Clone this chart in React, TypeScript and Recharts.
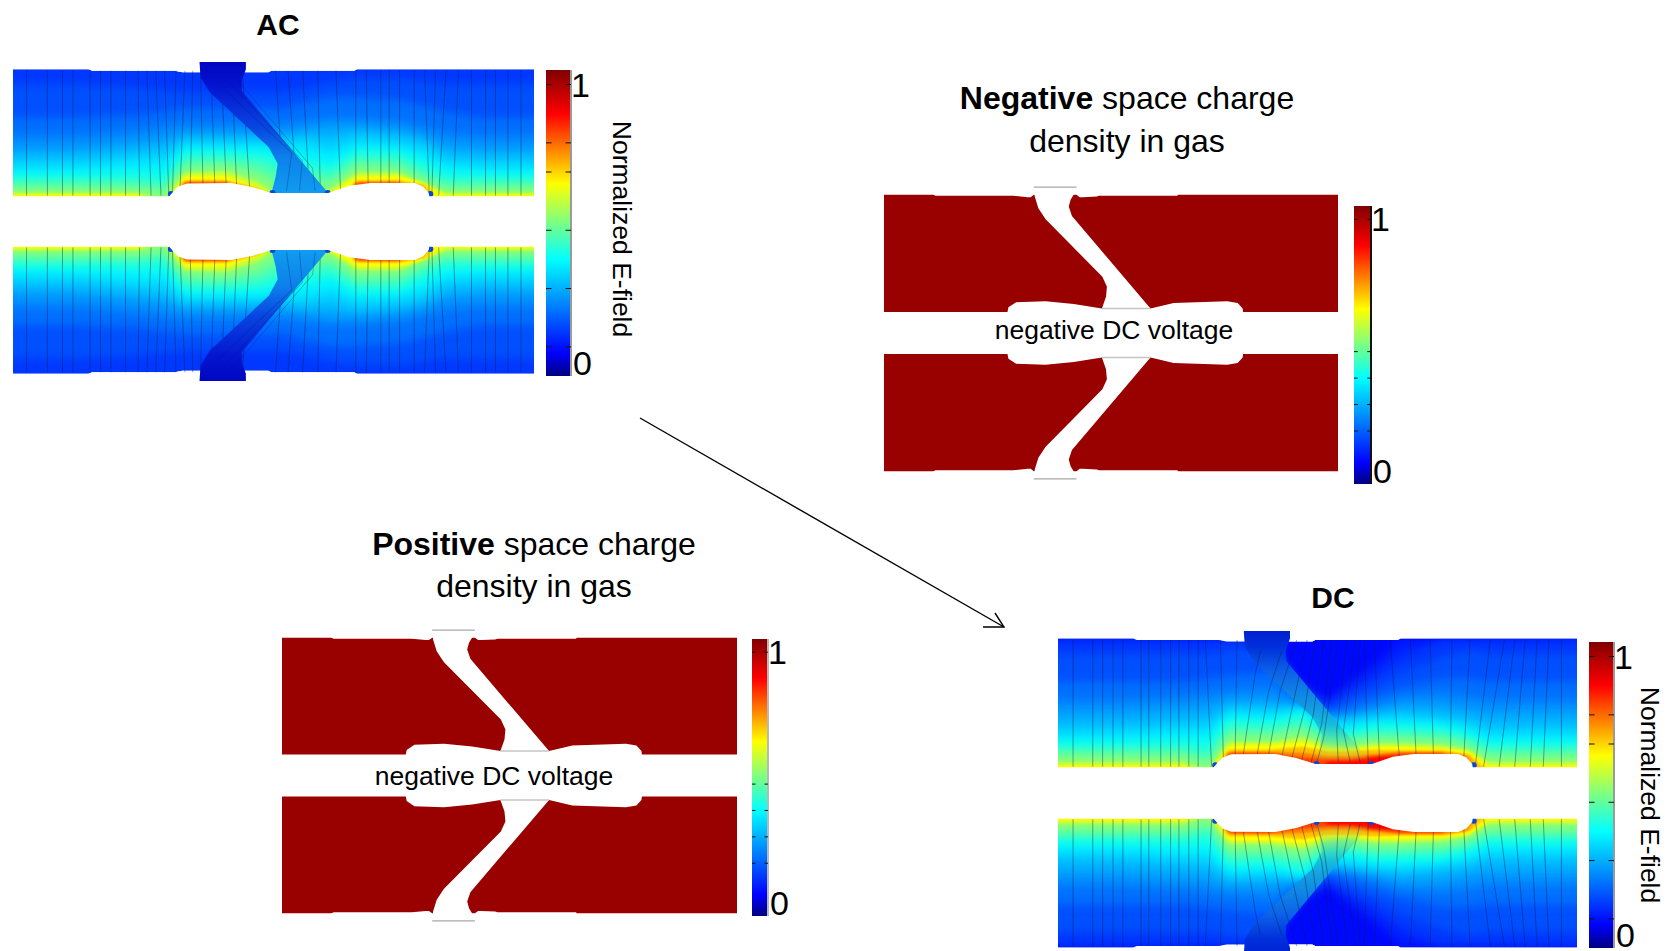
import React from "react";
import { Bar, BarChart, Scatter, ScatterChart, XAxis, YAxis } from "recharts";

// contour stations along the insulator width (0-100), v = distance from mid gap (outer edge = 100)
const stationU = [0, 12, 24, 29, 33, 41, 47, 52, 56, 61, 66, 74, 79, 83, 90, 100];

const acBase = 0.15;
const acLevels = [0.18, 0.22, 0.26, 0.3, 0.34, 0.38, 0.42, 0.46, 0.5, 0.55, 0.6, 0.66, 0.74, 0.84];
const acContourV = [
  [90, 90, 88, 86, 85, 85, 85, 85, 88, 92, 94, 94, 92, 90, 90, 90],
  [68, 68, 70, 72, 74, 74, 74, 74, 78, 82, 82, 80, 76, 72, 68, 68],
  [56, 56, 60, 62, 64, 64, 64, 64, 66, 68, 68, 66, 62, 58, 56, 56],
  [48, 48, 52, 54, 58, 58, 58, 58, 60, 62, 62, 60, 56, 50, 48, 48],
  [42, 42, 46, 48, 54, 54, 54, 54, 56, 54, 58, 56, 52, 44, 42, 42],
  [36, 36, 40, 40, 50, 50, 50, 50, 50, 46, 52, 50, 46, 38, 36, 36],
  [31, 31, 33, 33, 46, 46, 46, 44, 42, 38, 47, 46, 40, 33, 31, 31],
  [27, 27, 27, 26, 42, 43, 41, 36, 36, 33, 43, 42, 34, 27, 27, 27],
  [24, 24, 24, 22, 38, 39, 36, 28, 30, 28, 39, 38, 30, 24, 24, 24],
  [21, 21, 21, 18, 34, 36, 30, 20, 24, 24, 35, 34, 27, 21, 21, 21],
  [19, 19, 19, 14, 32, 33, 26, 14, 18, 21, 32, 32, 25, 19, 19, 19],
  [17.5, 17.5, 17.5, 10, 30, 30, 23, 10, 14, 19, 29.5, 30, 25, 17, 17.5, 17.5],
  [0, 0, 0, 0, 27, 27, 22, 0, 0, 0, 26.8, 27, 24, 0, 0, 0],
  [0, 0, 0, 0, 25.7, 25.7, 0, 0, 0, 0, 25.6, 25.7, 0, 0, 0, 0],
];

const dcBase = 0.09;
const dcLevels = [0.12, 0.15, 0.18, 0.22, 0.26, 0.3, 0.34, 0.38, 0.42, 0.46, 0.5, 0.55, 0.6, 0.66, 0.72, 0.78, 0.84, 0.9];
const dcContourV = [
  [99, 99, 99, 99, 99, 99, 72, 60, 72, 84, 99, 99, 99, 99, 99, 99],
  [99, 99, 99, 99, 99, 99, 68, 58, 66, 76, 88, 99, 99, 99, 99, 99],
  [90, 90, 90, 90, 92, 94, 64, 55, 62, 69, 78, 88, 92, 90, 90, 90],
  [72, 72, 72, 74, 76, 78, 60, 52, 57, 63, 68, 74, 74, 72, 72, 72],
  [60, 60, 62, 64, 66, 68, 58, 50, 52, 57, 62, 64, 62, 60, 60, 60],
  [52, 52, 55, 56, 60, 60, 56, 48, 49.5, 53, 57, 57, 54, 52, 52, 52],
  [44, 44, 47, 48, 56, 55, 55, 46, 47, 50, 52, 50, 48, 44, 44, 44],
  [38, 38, 41, 41, 52, 51, 53.5, 44, 45, 47, 48, 46, 43, 38, 38, 38],
  [33, 33, 35, 35, 48, 47, 52, 40, 40, 44, 44, 43, 39, 33, 33, 33],
  [29, 29, 30, 27, 44, 43, 47, 37, 37, 40, 40, 39, 35, 29, 29, 29],
  [26, 26, 26, 23, 40, 39, 43, 35, 34, 37, 37, 36, 32, 26, 26, 26],
  [23, 23, 23, 18, 36, 36, 39, 33, 32, 34, 34, 33, 30, 23, 23, 23],
  [20, 20, 20, 15, 33, 33, 36, 31, 30, 32, 32, 31, 28, 20, 20, 20],
  [18, 18, 18, 12, 31, 31, 33, 29, 28, 30, 30, 29, 27, 18, 18, 18],
  [16, 16, 16, 10, 28, 28, 30, 27, 27, 28, 27.5, 27.5, 25, 14, 16, 16],
  [0, 0, 0, 0, 26.5, 26.5, 26, 24, 24, 25, 26.5, 26.5, 24, 0, 0, 0],
  [0, 0, 0, 0, 25.7, 25.7, 23, 22, 22, 24, 25.7, 25.7, 0, 0, 0, 0],
  [0, 0, 0, 0, 0, 0, 0, 20.5, 20.5, 23, 24, 0, 0, 0, 0, 0],
];

// field panel geometry
const fieldBodyU = [0, 14.5, 15.2, 31, 32.5, 35, 46.8, 49, 49.6, 65.5, 66, 100];
const fieldBodyV = [100, 100, 99, 99, 98, 98, 98, 98, 99, 99, 100, 100];
const fieldSlotU = [35.8, 36, 37.8, 49.1, 50.8, 50.4, 49.6, 60.5, 43.9, 43.9, 44.7, 44.7];
const fieldSlotV = [104.8, 94.6, 84.7, 48.8, 37.9, 29.2, 18.7, 18.7, 85.8, 92.4, 100, 104.8];
const fieldGapU = [0, 30, 30.7, 31.7, 33.4, 41.9, 45.9, 49.6, 60.5, 64.5, 68.6, 77.1, 78.7, 79.8, 79.9, 100];
const fieldGapV = [16.6, 16.6, 19.4, 23, 25, 25.3, 22.7, 18.7, 18.7, 23.5, 25.3, 25.3, 23, 18.7, 16.6, 16.6];
const cornerU = [30.3, 49.8, 60.4, 80.1];
const cornerV = [18, 18.7, 18.7, 18];

// field lines: position at the outer edge and at the gas side
const acLineTop = [2.6, 6.6, 9.5, 11.5, 14.8, 16.8, 18.8, 21.6, 24, 25.7, 27.4, 29.1, 31.3, 33, 34.5, 36, 38, 40, 42, 44, 50.4, 52.8, 55.6, 58.5, 62, 65.8, 67.8, 70.6, 72.2, 74.2, 77, 79, 81.1, 83.1, 85.5, 88, 90.7, 92.6, 95, 97.5];
const acLineFoot = [2.6, 6.6, 9.5, 11.5, 14.8, 16.8, 18.8, 21.6, 24.3, 26.5, 28.4, 29.9, 30.6, 32, 34, 36.5, 38.8, 41, 43, 45.5, 52, 54.5, 56.9, 59, 62.9, 65.8, 68.2, 70.6, 72.2, 74.2, 77, 79.9, 80.4, 81.7, 84.5, 88, 90.7, 92.6, 95, 97.5];
const acStreakU = [
  [38, 53.5, 52.5],
  [40.5, 55.5, 55],
  [42.5, 57.5, 58],
];
const acStreakV = [
  [95, 45, 20],
  [95, 40, 20],
  [95, 35, 20],
];

const dcLineTop = [2.9, 6.7, 8.6, 10.6, 12.5, 16, 17.5, 19.8, 21.7, 23.3, 25.2, 27, 28.4, 31.3, 34.5, 59, 61, 64, 67.9, 71.7, 75.9, 79.4, 83.3, 86, 88, 90, 92.3, 94.6, 97];
const dcLineFoot = [2.9, 6.7, 8.6, 10.6, 12.5, 16, 17.5, 19.8, 21.7, 23.3, 25.2, 27, 29.6, 31.9, 34.1, 59.8, 62, 65.9, 69.1, 72.4, 75.6, 78.1, 80.4, 82, 85, 88, 91, 93.5, 97];
// bent lines that refract at the slot wall
const dcFanU = [
  [39, 38, 35.4],
  [43.1, 40.6, 38],
  [46, 42.8, 40.2],
  [48, 45.4, 42.8],
  [49.6, 47.6, 44.7],
  [51.2, 49.2, 46.7],
  [52.8, 50.8, 48.6],
  [54, 51.2, 49.9],
  [55.7, 53.7, 54],
  [57.3, 55, 56.3],
  [58.2, 56.9, 58.2],
];
const dcFanV = [
  [92, 76.9, 18],
  [92, 66, 18],
  [99, 66, 18],
  [99, 59.6, 18],
  [99, 55.3, 18],
  [99, 51, 18],
  [99, 44.5, 18],
  [99, 35.9, 20],
  [99, 40.2, 20],
  [99, 40.2, 20],
  [99, 38, 20],
];

// gas panel geometry
const gasBodyU = [0, 10.8, 11.4, 28.5, 31.6, 32.3, 33, 42.4, 43.1, 43.8, 46.9, 47.3, 64.6, 64.8, 100, 100, 0];
const gasBodyV = [100, 100, 99.3, 99.3, 98.3, 98.3, 100, 100, 98.3, 98.3, 98.8, 99.3, 99.3, 100, 100, 0, 0];
const gasSlotU = [33, 33.2, 34, 35.6, 48.1, 49.1, 48.9, 48, 58.7, 41.4, 40.7, 41.1, 42.2, 42.4];
const gasSlotV = [105.6, 98.8, 90.3, 82.3, 40.7, 33.4, 26.2, 17.7, 17.7, 84.7, 91.5, 96.4, 102.4, 105.6];
const gasGapU = [0, 27.2, 27.4, 29.1, 35.6, 41.8, 48, 58.7, 63.8, 75.6, 77.9, 79, 79.1, 100];
const gasGapV = [15.25, 15.25, 18.6, 22.3, 23, 21, 17.7, 17.7, 21.8, 23, 21.8, 17.7, 15.25, 15.25];
const gasTabEdgeU = [33, 42.4];
const gasTabEdgeV = [105.6, 105.6];
const gasFootU = [48, 58.7];
const gasFootV = [17.7, 17.7];

// colour bar
const barMax = 1.05;
const fieldBarTicks = [0, 0.1, 0.3, 0.5, 0.7, 0.8, 1];
const gasBarTicks = [0, 0.2, 0.3, 0.4, 0.5, 1];
const jetValues = [0, 0.08, 0.4, 0.66, 0.9, 1.05];
const jetColors = ["#000080", "#0000ff", "#00ffff", "#ffff00", "#ff0000", "#800000"];

// arrow between the AC and DC panels, page pixels
const arrowX = [640, 1004];
const arrowY = [418, 627];
const arrowHeadX = [983, 1004, 995];
const arrowHeadY = [627, 627, 613];

const DOMAIN_U: [number, number] = [0, 100];
const DOMAIN_V: [number, number] = [-110, 110];
const FONT = "'Liberation Sans', Arial, sans-serif";
const GAS_RED = "#990000";

const hex = (c: string) => [1, 3, 5].map((i) => parseInt(c.slice(i, i + 2), 16));
const jet = (value: number) => {
  let i = 0;
  while (i < jetValues.length - 2 && value > jetValues[i + 1]) i++;
  const t = (value - jetValues[i]) / (jetValues[i + 1] - jetValues[i]);
  const a = hex(jetColors[i]);
  const b = hex(jetColors[i + 1]);
  return `rgb(${a.map((x, k) => Math.round(x + (b[k] - x) * t)).join(",")})`;
};

const toPoints = (us: number[], vs: number[], sign = 1) =>
  us.map((u, i) => ({ u, v: vs[i] * sign }));

const hideDot = () => null;

const polygon = (key: string, pts: { u: number; v: number }[], fill: string, filter?: string) => (
  <Scatter
    key={key}
    data={pts}
    isAnimationActive={false}
    shape={hideDot}
    line={(p: any) => (
      <path
        key={key}
        d={"M" + p.points.map((q: any) => `${q.x},${q.y}`).join("L") + "Z"}
        fill={fill}
        stroke="none"
        filter={filter}
      />
    )}
  />
);

const polyline = (key: string, pts: { u: number; v: number }[], stroke: string, width = 1) => (
  <Scatter
    key={key}
    data={pts}
    isAnimationActive={false}
    shape={hideDot}
    line={{ stroke, strokeWidth: width, fill: "none" }}
  />
);

interface FieldProps {
  left: number;
  top: number;
  width: number;
  height: number;
  base: number;
  levels: number[];
  contours: number[][];
  lineTop: number[];
  lineFoot: number[];
  slotFill: string;
  linesOverSlot?: boolean;
  bentU: number[][];
  bentV: number[][];
  bentStroke: string;
}

const FieldPanel = (props: FieldProps) => {
  const { left, top, width, height, base, levels, contours, lineTop, lineFoot, slotFill, linesOverSlot, bentU, bentV, bentStroke } = props;
  const halves = [1, -1];
  const lineStroke = "rgba(0,30,70,0.45)";
  const lines = halves.flatMap((s) =>
    lineTop.map((t, i) =>
      polyline(`line-${s}-${i}`, toPoints([t, lineFoot[i]], [99, 17], s), lineStroke, 0.9)
    )
  );
  const slots = halves.map((s) =>
    polygon(`slot-${s}`, toPoints(fieldSlotU, fieldSlotV, s), s > 0 ? slotFill : `${slotFill.slice(0, -1)}-low)`)
  );
  const topMaskU = [-2, ...fieldBodyU, 102, 102, -2];
  const topMaskV = [100, ...fieldBodyV, 100, 112, 112];
  return (
    <div style={{ position: "absolute", left, top, filter: "blur(0.7px)" }}>
      <ScatterChart width={width} height={height} margin={{ top: 0, right: 0, bottom: 0, left: 0 }}>
        <XAxis type="number" dataKey="u" domain={DOMAIN_U} hide allowDataOverflow />
        <YAxis type="number" dataKey="v" domain={DOMAIN_V} hide allowDataOverflow />
        {halves.map((s) =>
          polygon(`body-${s}`, toPoints([...fieldBodyU, 100, 0], [...fieldBodyV, 0, 0], s), jet(base))
        )}
        {halves.flatMap((s) =>
          levels.map((level, i) => {
            const row = contours[i];
            return polygon(
              `band-${s}-${i}`,
              toPoints([-8, -8, ...stationU, 108, 108], [0, row[0], ...row, row[row.length - 1], 0], s),
              jet(level),
              level >= 0.6 ? "url(#blur-hot)" : "url(#blur-cool)"
            );
          })
        )}
        {halves.map((s) => polygon(`mask-${s}`, toPoints(topMaskU, topMaskV, s), "#ffffff"))}
        {linesOverSlot ? null : lines}
        {slots}
        {linesOverSlot ? lines : null}
        {halves.flatMap((s) =>
          bentU.map((us, i) => polyline(`bent-${s}-${i}`, toPoints(us, bentV[i], s), bentStroke, 0.9))
        )}
        <Scatter
          data={[...toPoints(cornerU, cornerV), ...toPoints(cornerU, cornerV, -1)]}
          isAnimationActive={false}
          shape={(p: any) => <circle cx={p.cx} cy={p.cy} r={3} fill="#0a46d8" />}
        />
        {polygon("gap", [...toPoints(fieldGapU, fieldGapV), ...toPoints(fieldGapU, fieldGapV, -1).reverse()], "#ffffff")}
      </ScatterChart>
    </div>
  );
};

const GasPanel = ({ left, top, width, height }: { left: number; top: number; width: number; height: number }) => (
  <div style={{ position: "absolute", left, top, filter: "blur(0.4px)" }}>
    <ScatterChart width={width} height={height} margin={{ top: 0, right: 0, bottom: 0, left: 0 }}>
      <XAxis type="number" dataKey="u" domain={DOMAIN_U} hide allowDataOverflow />
      <YAxis type="number" dataKey="v" domain={DOMAIN_V} hide allowDataOverflow />
      {[1, -1].map((s) => polygon(`gas-body-${s}`, toPoints(gasBodyU, gasBodyV, s), GAS_RED))}
      {[1, -1].map((s) => polygon(`gas-slot-${s}`, toPoints(gasSlotU, gasSlotV, s), "#ffffff"))}
      {polygon("gas-gap", [...toPoints(gasGapU, gasGapV), ...toPoints(gasGapU, gasGapV, -1).reverse()], "#ffffff")}
      {[1, -1].map((s) => polyline(`gas-tab-${s}`, toPoints(gasTabEdgeU, gasTabEdgeV, s), "#a8a8a8", 1.2))}
      {[1, -1].map((s) => polyline(`gas-foot-${s}`, toPoints(gasFootU, gasFootV, s), "#c4c4c4", 1.5))}
    </ScatterChart>
  </div>
);

const barData = [{ name: "scale", value: barMax }];
const BAR_PAD_TOP = 8;
const BAR_PAD_BOTTOM = 12;

const ColorBar = ({ left, top, barWidth, height, ticks, edge, title, sideWidth, labelDy = 0, fontSize }: {
  left: number; top: number; barWidth: number; height: number; ticks: number[];
  edge: string; title?: string; sideWidth: number; labelDy?: number; fontSize: number;
}) => {
  // tick marks point inward from both bar edges, only the two ends carry a label
  const tick = (p: any) => {
    const value = p.payload.value;
    const y = p.y;
    return (
      <g>
        {value !== 0 ? <line x1={0} x2={barWidth * 0.22} y1={y} y2={y} stroke="#111" /> : null}
        {value !== 0 ? <line x1={barWidth * 0.78} x2={barWidth} y1={y} y2={y} stroke="#111" /> : null}
        {value === 0 || value === 1 ? (
          <text
            x={barWidth + (value === 0 ? 2 : 0)}
            y={value === 0 ? y - 10 : y + 3}
            fill="#000"
            fontSize={fontSize}
            fontFamily={FONT}
            dominantBaseline="middle"
          >
            {value}
          </text>
        ) : null}
      </g>
    );
  };
  return (
    <div style={{ position: "absolute", left, top: top - BAR_PAD_TOP }}>
      <BarChart
        width={barWidth + sideWidth}
        height={height + BAR_PAD_TOP + BAR_PAD_BOTTOM}
        data={barData}
        barCategoryGap={0}
        margin={{ top: BAR_PAD_TOP, right: 0, bottom: BAR_PAD_BOTTOM, left: 0 }}
      >
        <XAxis dataKey="name" hide />
        <YAxis
          orientation="right"
          width={sideWidth}
          domain={[0, barMax]}
          ticks={ticks}
          interval={0}
          tick={tick}
          tickLine={false}
          axisLine={{ stroke: edge, strokeWidth: 2 }}
          label={
            title
              ? { value: title, angle: 90, position: "center", dy: labelDy, fontSize: 26.5, fontFamily: FONT, fill: "#000" }
              : undefined
          }
        />
        <Bar dataKey="value" fill="url(#jet-scale)" isAnimationActive={false} />
      </BarChart>
    </div>
  );
};

const PageText = ({ x, y, size, children }: { x: number; y: number; size: number; children: React.ReactNode }) => (
  <div
    style={{
      position: "absolute",
      left: x,
      top: y,
      transform: "translate(-50%, -50%)",
      fontFamily: FONT,
      fontSize: size,
      color: "#000",
      whiteSpace: "nowrap",
    }}
  >
    {children}
  </div>
);

const Stops = ({ offsets, colors, opacities }: { offsets: number[]; colors: string[]; opacities?: number[] }) => (
  <>
    {offsets.map((o, i) => (
      <stop key={i} offset={o} stopColor={colors[i]} stopOpacity={opacities ? opacities[i] : 1} />
    ))}
  </>
);

const acSlotOffsets = [0, 0.18, 0.5, 0.72, 1];
const acSlotColors = ["#0006c0", "#0414d0", "#0846e0", "#0c80ea", "#109cf0"];
const dcSlotOffsets = [0, 0.12, 0.3, 0.52, 0.7, 0.85, 1];
const dcSlotColors = ["#0020d0", "#0030dc", "#0c60e8", "#1090e4", "#18b8d8", "#60d890", "#c0e040"];
const dcSlotOpacity = [1, 1, 1, 1, 0.9, 0.4, 0];

export default function App() {
  const jetOffsets = jetValues.map((v) => 1 - v / barMax).reverse();
  const jetTop = [...jetColors].reverse();
  return (
    <div style={{ position: "absolute", left: 0, top: 0, width: 1667, height: 951, overflow: "hidden", background: "#fff" }}>
      <svg width={0} height={0} style={{ position: "absolute" }}>
        <defs>
          <linearGradient id="jet-scale" x1="0" y1="0" x2="0" y2="1">
            <Stops offsets={jetOffsets} colors={jetTop} />
          </linearGradient>
          <linearGradient id="slot-ac" x1="0" y1="0" x2="0" y2="1">
            <Stops offsets={acSlotOffsets} colors={acSlotColors} />
          </linearGradient>
          <linearGradient id="slot-ac-low" x1="0" y1="1" x2="0" y2="0">
            <Stops offsets={acSlotOffsets} colors={acSlotColors} />
          </linearGradient>
          <linearGradient id="slot-dc" x1="0" y1="0" x2="0" y2="1">
            <Stops offsets={dcSlotOffsets} colors={dcSlotColors} opacities={dcSlotOpacity} />
          </linearGradient>
          <linearGradient id="slot-dc-low" x1="0" y1="1" x2="0" y2="0">
            <Stops offsets={dcSlotOffsets} colors={dcSlotColors} opacities={dcSlotOpacity} />
          </linearGradient>
          <filter id="blur-cool" colorInterpolationFilters="sRGB">
            <feGaussianBlur stdDeviation="3 5" />
          </filter>
          <filter id="blur-hot" colorInterpolationFilters="sRGB">
            <feGaussianBlur stdDeviation="2 1" />
          </filter>
        </defs>
      </svg>

      <FieldPanel left={13} top={54} width={521} height={335} base={acBase} levels={acLevels} contours={acContourV}
        lineTop={acLineTop} lineFoot={acLineFoot} slotFill="url(#slot-ac)"
        bentU={acStreakU} bentV={acStreakV} bentStroke="rgba(0,30,110,0.35)" />
      <ColorBar left={546} top={70} barWidth={25} height={306} ticks={fieldBarTicks} edge="#9a9a9a" title="Normalized E-field" sideWidth={102} labelDy={6} fontSize={34} />

      <GasPanel left={884} top={181} width={454} height={304} />
      <ColorBar left={1354} top={206} barWidth={17} height={278} ticks={gasBarTicks} edge="#111" sideWidth={40} fontSize={34} />

      <GasPanel left={282} top={624} width={455} height={303} />
      <ColorBar left={752} top={639} barWidth={16} height={277} ticks={gasBarTicks} edge="#b8b8b8" sideWidth={40} fontSize={34} />

      <FieldPanel left={1058} top={623} width={519} height={340} base={dcBase} levels={dcLevels} contours={dcContourV}
        lineTop={dcLineTop} lineFoot={dcLineFoot} slotFill="url(#slot-dc)" linesOverSlot
        bentU={dcFanU} bentV={dcFanV} bentStroke="rgba(0,30,70,0.45)" />
      <ColorBar left={1589} top={642} barWidth={25} height={306} ticks={fieldBarTicks} edge="#9a9a9a" title="Normalized E-field" sideWidth={72} fontSize={34} />

      <div style={{ position: "absolute", left: 0, top: 0, pointerEvents: "none" }}>
        <ScatterChart width={1667} height={951} margin={{ top: 0, right: 0, bottom: 0, left: 0 }}>
          <XAxis type="number" dataKey="u" domain={[0, 1667]} hide />
          <YAxis type="number" dataKey="v" domain={[0, 951]} reversed hide />
          {polyline("arrow", toPoints(arrowX, arrowY), "#000", 1.4)}
          {polyline("arrow-head", toPoints(arrowHeadX, arrowHeadY), "#000", 1.4)}
        </ScatterChart>
      </div>

      <PageText x={278} y={25} size={30}><b>AC</b></PageText>
      <PageText x={1127} y={98} size={32}><b>Negative</b> space charge</PageText>
      <PageText x={1127} y={141} size={32}>density in gas</PageText>
      <PageText x={534} y={544} size={32}><b>Positive</b> space charge</PageText>
      <PageText x={534} y={586} size={32}>density in gas</PageText>
      <PageText x={1333} y={598} size={30}><b>DC</b></PageText>
      <PageText x={1114} y={330} size={26.5}>negative DC voltage</PageText>
      <PageText x={494} y={776} size={26.5}>negative DC voltage</PageText>
    </div>
  );
}
